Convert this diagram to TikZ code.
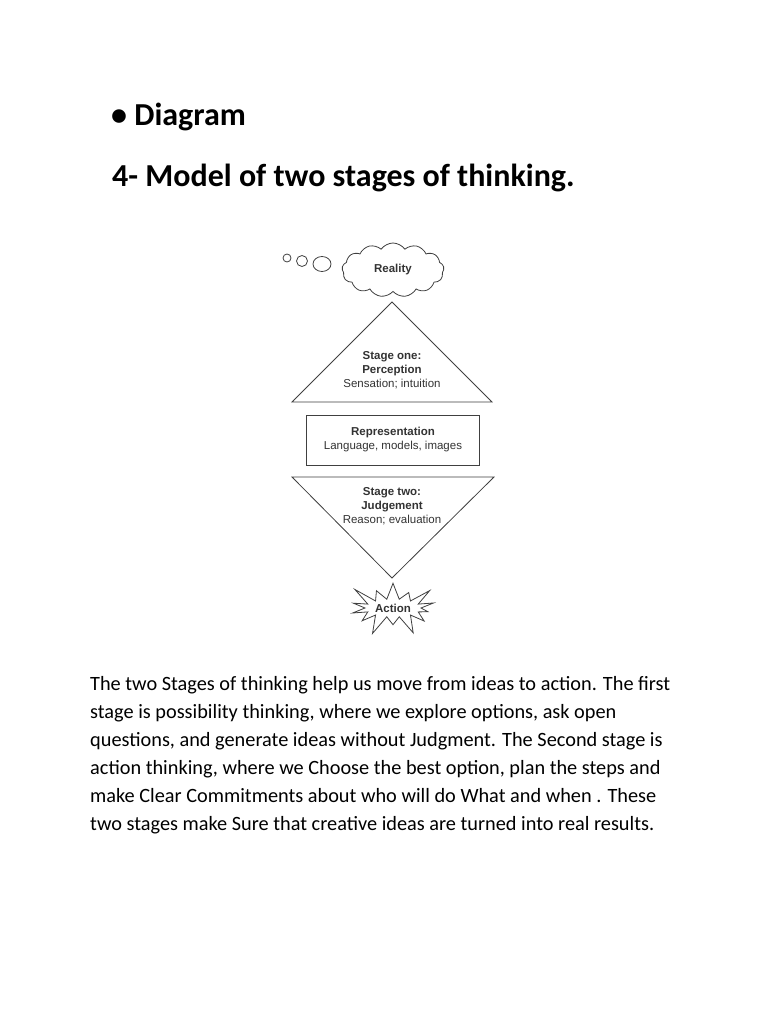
\documentclass[tikz,border=0pt]{standalone}
\usepackage{fontspec}
\setmainfont{Carlito}
\newfontfamily\diagfont{Liberation Sans}
\usetikzlibrary{shapes.symbols,shapes.geometric}
\begin{document}
\begin{tikzpicture}[x=1pt,y=-1pt,
    every node/.style={inner sep=0pt},
    shape line/.style={draw=black!75, line width=0.8pt},
    label text/.style={font=\diagfont\fontsize{11.5}{14}\selectfont, text=black!80, align=center}]
    \useasboundingbox[fill=white] (0,0) rectangle (768,1024);

    % Headings
    \node[anchor=west, font=\fontsize{32}{36}\selectfont\bfseries] (head) at (111,117) {\textbullet\ Diagram};
    \node[anchor=west, font=\fontsize{32}{36}\selectfont\bfseries] (title) at (112,178) {4- Model of two stages of thinking.};

    % Thought bubbles and cloud
    \node[shape line, circle, minimum size=8pt] (b1) at (287,258) {};
    \node[shape line, circle, minimum size=11pt] (b2) at (302,261) {};
    \node[shape line, ellipse, minimum width=18pt, minimum height=15pt] (b3) at (322,264) {};
    \node[shape line, cloud, cloud puffs=13, cloud puff arc=110, aspect=1.9,
          minimum width=102pt, minimum height=54pt, label text, font=\diagfont\bfseries\fontsize{11.5}{14}\selectfont] (reality) at (393,270) {Reality};

    % Stage one
    \draw[shape line] (392,302) -- (492,402) -- (292,402) -- cycle;
    \node[label text] (one) at (392,370) {\textbf{Stage one:}\\ \textbf{Perception}\\ Sensation; intuition};

    % Representation
    \node[shape line, minimum width=173pt, minimum height=50pt, label text] (repr) at (393,440)
        {\textbf{Representation}\\ Language, models, images};

    % Stage two
    \draw[shape line] (292,477) -- (494,477) -- (392,578) -- cycle;
    \node[label text] (two) at (392,506) {\textbf{Stage two:}\\ \textbf{Judgement}\\ Reason; evaluation};

    % Action
    \node[shape line, starburst, starburst points=14, starburst point height=22pt,
          minimum width=100pt, minimum height=62pt, label text, font=\diagfont\bfseries\fontsize{11.5}{14}\selectfont] (action) at (393,608) {Action};

    % Paragraph
    \node[anchor=north west, align=left, font=\fontsize{20.3}{28}\selectfont] (text) at (90,676)
        {The two Stages of thinking help us move from ideas to action. The first\\
         stage is possibility thinking, where we explore options, ask open\\
         questions, and generate ideas without Judgment. The Second stage is\\
         action thinking, where we Choose the best option, plan the steps and\\
         make Clear Commitments about who will do What and when . These\\
         two stages make Sure that creative ideas are turned into real results.};
\end{tikzpicture}
\end{document}
